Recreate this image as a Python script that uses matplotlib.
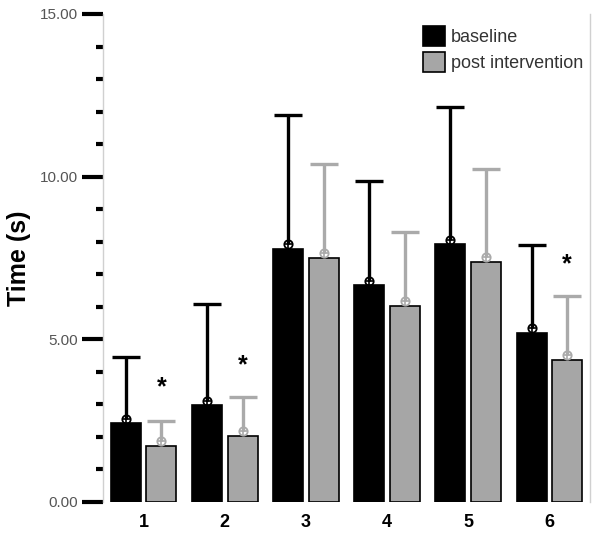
import matplotlib.pyplot as plt
import numpy as np

plt.rcParams['font.family'] = ['Liberation Sans', 'DejaVu Sans']

cats = ['1', '2', '3', '4', '5', '6']
baseline = [2.42, 2.97, 7.79, 6.66, 7.92, 5.20]
post = [1.72, 2.03, 7.49, 6.02, 7.37, 4.36]
# mean markers drawn a little above the bar tops
baseline_mark = [2.55, 3.10, 7.94, 6.80, 8.05, 5.35]
post_mark = [1.86, 2.17, 7.64, 6.17, 7.54, 4.51]
# top of the error bars
baseline_top = [4.46, 6.08, 11.91, 9.87, 12.13, 7.90]
post_top = [2.50, 3.22, 10.40, 8.30, 10.23, 6.34]
# asterisks above the post bars
star_pos = [1, 2, 6]
star_y = [3.54, 4.21, 7.30]

blk = 'black'
gry = '#a6a6a6'
egry = '#aaaaaa'

x = np.arange(1, len(cats) + 1)
w = 0.37
off = 0.22

fig = plt.figure(figsize=(6, 5.46), dpi=100)
ax = fig.add_axes([0.1717, 0.0806, 0.8116, 0.8938])

ax.bar(x - off, baseline, w, color=blk, edgecolor=blk, linewidth=1.2, label='baseline', zorder=2)
ax.bar(x + off, post, w, color=gry, edgecolor=blk, linewidth=1.2, label='post intervention', zorder=2)

# error bars: only the upper half, with a cap at the top
for xs, ys, tops, c in [(x - off, baseline_mark, baseline_top, blk),
                        (x + off, post_mark, post_top, egry)]:
    ax.vlines(xs, ys, tops, colors=c, linewidth=2.4, zorder=3)
    ax.plot(xs, tops, '_', ms=20, mew=2.4, color=c, zorder=3)
    ax.plot(xs, ys, 'o', ms=6, mfc='none', mec=c, mew=1.3, zorder=4)
    ax.plot(xs, ys, '+', ms=6, mec=c, mew=1.2, zorder=4)

for p, sy in zip(star_pos, star_y):
    ax.text(p + off, sy, '*', ha='center', va='center', fontsize=18, fontweight='bold', color=blk)

ax.set_xlim(0.5, 6.5)
ax.set_ylim(0, 15)
ax.set_xticks(x)
ax.set_xticklabels(cats, fontsize=13, fontweight='bold')
ax.tick_params(axis='x', length=0, pad=9)
ax.set_yticks([0, 5, 10, 15])
ax.set_yticklabels(['0.00', '5.00', '10.00', '15.00'], fontsize=11, color='#555555')
ax.set_yticks(np.arange(0, 16, 1), minor=True)
ax.tick_params(axis='y', which='major', length=15, width=3, color=blk, pad=3)
ax.tick_params(axis='y', which='minor', length=5, width=3, color=blk)
ax.set_ylabel('Time (s)', fontsize=18, fontweight='bold')
ax.yaxis.set_label_coords(-0.148, 0.5)

for s in ['top', 'bottom']:
    ax.spines[s].set_visible(False)
for s in ['left', 'right']:
    ax.spines[s].set_color('#d0d0d0')
    ax.spines[s].set_linewidth(1)

leg = ax.legend(loc='upper right', bbox_to_anchor=(1.0, 0.99), fontsize=13, frameon=False,
                handlelength=1.2, handleheight=1.3, handletextpad=0.3, labelspacing=0.35,
                borderaxespad=0.0)
for t in leg.get_texts():
    t.set_color('#333333')

fig.savefig('out.png')
